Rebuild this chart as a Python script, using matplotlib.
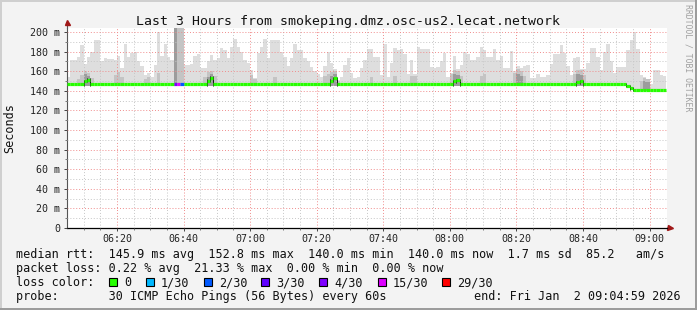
import numpy as np
import matplotlib
matplotlib.use("Agg")
import matplotlib.pyplot as plt
from matplotlib.patches import Rectangle

W, H = 697, 310
MONO = "DejaVu Sans Mono"

# one sample per minute, x = minutes since 06:05
smoke_hi = [
    154, 171, 171, 174, 187, 167, 175, 180, 192, 192, 170, 173, 172, 172, 171, 176, 163, 188, 174, 179,
    180, 170, 165, 156, 158, 154, 166, 200, 176, 188, 174, 171, 204, 204, 204, 166, 166, 167, 176, 178,
    163, 163, 170, 177, 171, 173, 184, 182, 173, 185, 193, 185, 180, 171, 168, 161, 153, 179, 185, 193,
    173, 192, 192, 192, 180, 175, 165, 173, 188, 182, 182, 173, 170, 164, 160, 157, 154, 165, 180, 168,
    162, 151, 154, 166, 173, 158, 153, 154, 163, 171, 183, 183, 175, 175, 156, 188, 154, 168, 184, 182,
    183, 178, 157, 171, 157, 185, 183, 183, 183, 164, 163, 164, 170, 179, 154, 158, 176, 162, 166, 180,
    178, 171, 171, 175, 185, 182, 175, 175, 183, 171, 176, 163, 163, 181, 160, 165, 163, 165, 166, 153,
    153, 157, 154, 154, 156, 167, 178, 178, 187, 179, 165, 156, 173, 174, 162, 162, 168, 184, 184, 175,
    161, 180, 188, 170, 158, 164, 164, 164, 182, 192, 200, 183, 156, 154, 152, 147, 161, 161, 156, 155,
]
smoke_lo = [
    145, 145, 145, 145, 145, 145, 145, 145, 145, 145, 145, 145, 145, 145, 145, 145, 145, 145, 145, 145,
    145, 145, 145, 145, 145, 145, 145, 145, 145, 145, 145, 145, 145, 145, 145, 145, 145, 145, 145, 145,
    145, 145, 145, 145, 145, 145, 145, 145, 145, 145, 145, 145, 145, 145, 145, 145, 145, 145, 145, 145,
    145, 145, 145, 145, 145, 145, 145, 145, 145, 145, 145, 145, 145, 145, 145, 145, 145, 145, 145, 145,
    145, 145, 145, 145, 145, 145, 145, 145, 145, 145, 145, 145, 145, 145, 145, 145, 145, 145, 145, 145,
    145, 145, 145, 145, 145, 145, 145, 145, 145, 145, 145, 145, 145, 145, 145, 145, 145, 145, 145, 145,
    145, 145, 145, 145, 145, 145, 145, 145, 145, 145, 145, 145, 145, 145, 145, 145, 145, 145, 145, 145,
    145, 145, 145, 145, 145, 145, 145, 145, 145, 145, 145, 145, 145, 145, 145, 145, 145, 145, 145, 145,
    145, 145, 145, 145, 145, 145, 145, 145, 144, 141.5, 139.5, 139.5, 139.5, 139.5, 139.5, 139.5, 139.5, 139.5, 139.5, 139.5,
]
median_rtt = [
    146.6, 146.6, 146.6, 146.6, 146.6, 150.0, 151.5, 146.6, 146.6, 146.6, 146.6, 146.6, 146.6, 146.6, 146.6, 146.6, 146.6, 146.6, 146.6, 146.6,
    146.6, 146.6, 146.6, 146.6, 146.6, 146.6, 146.6, 146.6, 146.6, 146.6, 146.6, 146.6, 146.6, 146.6, 146.6, 146.6, 146.6, 146.6, 146.6, 146.6,
    146.6, 146.6, 150.5, 153.5, 146.6, 146.6, 146.6, 146.6, 146.6, 146.6, 146.6, 146.6, 146.6, 146.6, 146.6, 146.6, 146.6, 146.6, 146.6, 146.6,
    146.6, 146.6, 146.6, 146.6, 146.6, 146.6, 146.6, 146.6, 146.6, 146.6, 146.6, 146.6, 146.6, 146.6, 146.6, 146.6, 146.6, 146.6, 146.6, 150.5,
    153.0, 146.6, 146.6, 146.6, 146.6, 146.6, 146.6, 146.6, 146.6, 146.6, 146.6, 146.6, 146.6, 146.6, 146.6, 146.6, 146.6, 146.6, 146.6, 146.6,
    146.6, 146.6, 146.6, 146.6, 146.6, 146.6, 146.6, 146.6, 146.6, 146.6, 146.6, 146.6, 146.6, 146.6, 146.6, 146.6, 149.5, 151.0, 146.6, 146.6,
    146.6, 146.6, 146.6, 146.6, 146.6, 146.6, 146.6, 146.6, 146.6, 146.6, 146.6, 146.6, 146.6, 146.6, 146.6, 146.6, 146.6, 146.6, 146.6, 146.6,
    146.6, 146.6, 146.6, 146.6, 146.6, 146.6, 146.6, 146.6, 146.6, 146.6, 146.6, 146.6, 146.6, 148.5, 150.0, 146.6, 146.6, 146.6, 146.6, 146.6,
    146.6, 146.6, 146.6, 146.6, 146.6, 146.6, 146.6, 146.6, 145.0, 142.5, 140.5, 140.5, 140.5, 140.5, 140.5, 140.5, 140.5, 140.5, 140.5, 140.5,
]

# denser smoke near the median
mid_minutes = [3, 4, 5, 6, 7, 14, 15, 16, 23, 24, 27, 33, 34, 41, 42, 43, 44, 55, 56, 62,
               77, 78, 79, 80, 81, 91, 98, 103, 104, 115, 116, 117, 118, 124, 125,
               134, 135, 136, 137, 152, 153, 154, 155, 172, 173, 174]
mid_tops = [152, 156, 160, 158, 153, 156, 159, 154, 152, 154, 158, 204, 204, 154, 159, 160, 155, 156, 152, 154,
            155, 157, 159, 160, 150, 154, 155, 155, 155, 157, 161, 160, 155, 155, 157,
            158, 162, 160, 155, 157, 161, 161, 156, 150, 153, 152]
dark_minutes = [5, 6, 32, 42, 43, 79, 80, 116, 117, 135, 136, 153, 154, 173, 174]
dark_tops = [157, 155, 204, 154, 157, 155, 157, 157, 156, 157, 155, 157, 156, 150, 149]

loss_minutes = [32, 33, 34]
loss_pings = [4, 15, 2]

loss_levels = [0, 1, 2, 3, 4, 15, 29]
loss_labels = ["0", "1/30", "2/30", "3/30", "4/30", "15/30", "29/30"]
loss_colors = ["#26ff00", "#00b8ff", "#0059ff", "#5e00ff", "#7e00ff", "#dd00ff", "#ff0000"]

time_ticks = [15, 35, 55, 75, 95, 115, 135, 155, 175]
time_labels = ["06:20", "06:40", "07:00", "07:20", "07:40", "08:00", "08:20", "08:40", "09:00"]


def fx(px):
    return px / W


def fy(py):
    return 1 - py / H


def loss_color(pings):
    col = loss_colors[0]
    for level, c in zip(loss_levels, loss_colors):
        if pings >= level:
            col = c
    return col


fig = plt.figure(figsize=(W / 100, H / 100), dpi=100, facecolor="#f3f3f3")
ax = fig.add_axes([fx(67), fy(228), 599.5 / W, 200.3 / H])
ax.set_facecolor("white")

x = np.arange(len(smoke_hi))
hi = np.array(smoke_hi, dtype=float)
lo = np.array(smoke_lo, dtype=float)
med = np.array(median_rtt)

ax.bar(x, hi - lo, bottom=lo, width=1, align="edge", color="#dedede", linewidth=0, zorder=1)
mm = np.array(mid_minutes)
ax.bar(mm, np.array(mid_tops) - lo[mm], bottom=lo[mm], width=1, align="edge",
       color="#c4c4c4", linewidth=0, zorder=1.1)
dm = np.array(dark_minutes)
ax.bar(dm, np.array(dark_tops) - lo[dm], bottom=lo[dm], width=1, align="edge",
       color="#9c9c9c", linewidth=0, zorder=1.2)

# median, coloured by packet loss
cols = [loss_colors[0]] * len(med)
for m, p in zip(loss_minutes, loss_pings):
    cols[m] = loss_color(p)
for i in range(len(med) - 1):
    if med[i] != med[i + 1]:
        ax.vlines(i + 1, min(med[i], med[i + 1]) - 1.2, max(med[i], med[i + 1]) + 1.2,
                  color="#111111", linewidth=0.7, zorder=3.9)
ax.hlines(med, x, x + 1, colors=cols, linewidth=2.3, zorder=4, capstyle="butt")

ax.set_xlim(0, 180.1)
ax.set_ylim(0, 204.4)

ax.set_xticks(time_ticks)
ax.set_xticklabels(time_labels)
ax.set_xticks(np.arange(5, 180, 5), minor=True)
ax.set_yticks(np.arange(0, 201, 20))
ax.set_yticklabels(["0"] + ["{} m".format(v) for v in range(20, 201, 20)])
ax.set_yticks(np.arange(10, 201, 10), minor=True)

for lab in ax.get_xticklabels() + ax.get_yticklabels():
    lab.set_family(MONO)
    lab.set_fontsize(7.2)
    lab.set_color("#222222")
ax.tick_params(which="major", length=2.2, width=0.7, color="#444444", pad=1.8)
ax.tick_params(which="minor", length=1.5, width=0.6, color="#666666")
ax.tick_params(axis="y", pad=2.6)

ax.set_axisbelow(False)
ax.grid(which="minor", color="#c6c6c6", linestyle=(0, (1, 2)), linewidth=0.7)
ax.grid(which="major", color="#f08c8c", linestyle=(0, (1, 2)), linewidth=0.7)

for side in ["top", "right"]:
    ax.spines[side].set_visible(False)
ax.spines["left"].set_color("#555555")
ax.spines["left"].set_linewidth(0.8)
ax.spines["bottom"].set_color("black")
ax.spines["bottom"].set_linewidth(0.9)
ax.plot([0, 0], [1, 1.028], transform=ax.transAxes, color="#555555", lw=0.8, clip_on=False)
ax.plot([1, 1.004], [0, 0], transform=ax.transAxes, color="black", lw=0.9, clip_on=False)
ax.plot([0], [1.03], marker="^", color="#a01818", markersize=3.6, transform=ax.transAxes, clip_on=False)
ax.plot([1.006], [0], marker=">", color="#a01818", markersize=3.6, transform=ax.transAxes, clip_on=False)

fig.text(fx(348), fy(24.5), "Last 3 Hours from smokeping.dmz.osc-us2.lecat.network",
         ha="center", va="baseline", family=MONO, fontsize=9.55, color="#111111")
fig.text(fx(10), fy(128), "Seconds", rotation=90, ha="center", va="center",
         family=MONO, fontsize=8.5, color="#111111")
fig.text(fx(688), fy(4), "RRDTOOL / TOBI OETIKER", rotation=270, ha="center", va="top",
         family=MONO, fontsize=5.9, color="#a0a0a0")

legend_rows = [
    "median rtt:  145.9 ms avg  152.8 ms max  140.0 ms min  140.0 ms now  1.7 ms sd  85.2   am/s",
    "packet loss: 0.22 % avg  21.33 % max  0.00 % min  0.00 % now",
    "loss color:",
    "probe:       30 ICMP Echo Pings (56 Bytes) every 60s",
]
for k, row in enumerate(legend_rows):
    fig.text(fx(16), fy(258 + 14 * k), row, ha="left", va="baseline",
             family=MONO, fontsize=8.5, color="#111111")
fig.text(fx(681), fy(300), "end: Fri Jan  2 09:04:59 2026", ha="right", va="baseline",
         family=MONO, fontsize=8.5, color="#111111")

box_x = [109, 146, 204, 261, 319, 378, 442]
for bx, lab, c in zip(box_x, loss_labels, loss_colors):
    fig.add_artist(Rectangle((fx(bx), fy(286)), 8 / W, 8 / H, transform=fig.transFigure,
                             facecolor=c, edgecolor="black", linewidth=0.8))
    fig.text(fx(bx + 15), fy(286), lab, ha="left", va="baseline",
             family=MONO, fontsize=8.5, color="#111111")

# rrdtool style frame
fig.add_artist(Rectangle((0, fy(2)), 1, 2 / H, transform=fig.transFigure, color="#cfcfcf", lw=0))
fig.add_artist(Rectangle((0, 0), 2 / W, 1, transform=fig.transFigure, color="#cfcfcf", lw=0))
fig.add_artist(Rectangle((0, 0), 1, 2 / H, transform=fig.transFigure, color="#9c9c9c", lw=0))
fig.add_artist(Rectangle((fx(695), 0), 2 / W, 1, transform=fig.transFigure, color="#9c9c9c", lw=0))

fig.savefig("out.png", dpi=100, facecolor=fig.get_facecolor())
